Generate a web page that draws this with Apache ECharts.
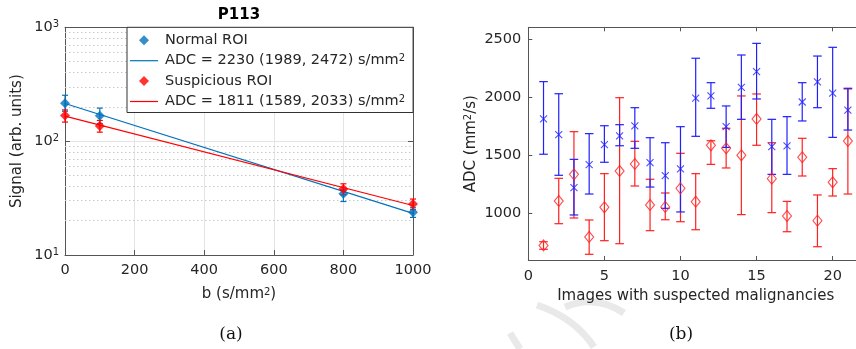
<!DOCTYPE html>
<html>
<head>
<meta charset="utf-8">
<script src="https://cdn.jsdelivr.net/npm/echarts@6/dist/echarts.min.js"></script>
<style>
  html, body { margin: 0; padding: 0; background: #fff; }
  #chart { width: 856px; height: 349px; }
</style>
</head>
<body>
<div id="chart"></div>
<script>
// (a) signal decay for patient P113
const bValues = [0, 100, 800, 1000]
const normalSignal = [215, 167, 34.5, 23.7]
const normalLow = [183, 143, 29.5, 21.4]
const normalHigh = [253, 195, 37.4, 26]
const suspSignal = [168, 136, 37.9, 28]
const suspLow = [147, 120, 33.8, 25]
const suspHigh = [188, 152, 42.2, 31]
// mono-exponential fits (straight on the log axis), end points at b = 0 and b = 1000
const normalFit = [[0, 214], [1000, 23.2]]
const suspFit = [[0, 166], [1000, 27.2]]
const normalFitLabel = 'ADC = 2230 (1989, 2472) s/mm2'
const suspFitLabel = 'ADC = 1811 (1589, 2033) s/mm2'
const logMinorGrid = [20, 30, 40, 50, 60, 70, 80, 90, 200, 300, 400, 500, 600, 700, 800, 900]

// (b) ADC per image with suspected malignancy
const imageIdx = [1, 2, 3, 4, 5, 6, 7, 8, 9, 10, 11, 12, 13, 14, 15, 16, 17, 18, 19, 20, 21]
const blueAdc = [1812, 1677, 1222, 1419, 1591, 1666, 1752, 1436, 1325, 1384, 1992, 2010, 1746, 2084, 2219, 1574, 1580, 1958, 2130, 2035, 1889]
const blueLow = [1509, 1328, 987, 1167, 1440, 1582, 1560, 1227, 1044, 1013, 1663, 1904, 1568, 1809, 1984, 1336, 1336, 1795, 1909, 1654, 1717]
const blueHigh = [2133, 2029, 1465, 1686, 1754, 1763, 1909, 1651, 1608, 1746, 2334, 2124, 1924, 2362, 2462, 1809, 1832, 2124, 2353, 2428, 2076]
const redAdc = [725, 1107, 1336, 798, 1053, 1365, 1425, 1073, 1056, 1216, 1101, 1586, 1560, 1500, 1812, 1299, 978, 1483, 938, 1268, 1623]
const redLow = [692, 912, 961, 649, 766, 740, 1236, 852, 946, 929, 860, 1422, 1391, 990, 1586, 1007, 843, 1322, 714, 1150, 1167]
const redHigh = [757, 1302, 1703, 944, 1342, 1995, 1620, 1294, 1176, 1517, 1342, 1625, 1732, 2010, 2027, 1608, 1104, 1646, 1159, 1385, 2070]
const adcTicks = [1000, 1500, 2000, 2500]
const imageTicks = [0, 5, 10, 15, 20]

const FONT = 'DejaVu Sans'
const TEXT = '#262626'
const AXIS = '#555555'
const sup = { fontSize: 10, fontFamily: FONT, color: TEXT, padding: [0, 0, 5, 0] }
const DIAMOND = 'path://M5,0L10,5L5,10L0,5Z'
const LEGEND_LINE = 'path://M0,0L28,0L28,1.2L0,1.2Z'

// vertical error bar with caps, positioned through the axis scales
function errorBars(color, capHalf, width) {
  return function (params, api) {
    const x = api.value(0)
    const top = api.coord([x, api.value(2)])
    const bottom = api.coord([x, api.value(1)])
    const style = { stroke: color, lineWidth: width }
    return {
      type: 'group',
      children: [
        { type: 'line', shape: { x1: top[0], y1: top[1], x2: bottom[0], y2: bottom[1] }, style },
        { type: 'line', shape: { x1: top[0] - capHalf, y1: top[1], x2: top[0] + capHalf, y2: top[1] }, style },
        { type: 'line', shape: { x1: bottom[0] - capHalf, y1: bottom[1], x2: bottom[0] + capHalf, y2: bottom[1] }, style },
      ],
    }
  }
}

const zip = (xs, ys) => xs.map((x, i) => [x, ys[i]])
const zip3 = (xs, lo, hi) => xs.map((x, i) => [x, lo[i], hi[i]])

// Box-style axis (MATLAB "box on"): ticks inside, optional labels
function boxAxis(extra) {
  return {
    axisLine: { show: true, onZero: false, lineStyle: { color: AXIS, width: 1 } },
    axisTick: { show: true, inside: true, length: 5, lineStyle: { color: AXIS } },
    axisLabel: { show: false },
    splitLine: { show: false },
    nameTextStyle: { color: TEXT, fontSize: 15, fontFamily: FONT },
    nameLocation: 'middle',
    ...extra,
  }
}
const tickLabel = (margin) => ({
  show: true, color: TEXT, fontSize: 14.5, fontFamily: FONT, margin,
  formatter: (v) => String(v),
})

const chart = echarts.init(document.getElementById('chart'))

chart.setOption({
  animation: false,
  backgroundColor: '#fff',
  textStyle: { fontFamily: FONT },
  grid: [
    { left: 65, top: 27.3, width: 348, height: 227.7, outerBoundsMode: 'none', containLabel: false },
    { left: 528.3, top: 27.3, width: 334.8, height: 232.7, outerBoundsMode: 'none', containLabel: false },
  ],
  xAxis: [
    boxAxis({
      gridIndex: 0, type: 'value', min: 0, max: 1000, interval: 200, position: 'bottom',
      axisLabel: tickLabel(8),
      splitLine: { show: true, lineStyle: { color: '#e4e4e4', width: 1 } },
      name: '{t|b (s/mm}{s|2}{t|)}', nameGap: 32,
      nameTextStyle: { rich: { t: { fontSize: 15, fontFamily: FONT, color: TEXT }, s: sup } },
    }),
    boxAxis({ gridIndex: 0, type: 'value', min: 0, max: 1000, interval: 200, position: 'top' }),
    boxAxis({
      gridIndex: 1, type: 'value', min: 0, max: 22, position: 'bottom',
      axisTick: { show: true, inside: true, length: 4, lineStyle: { color: AXIS }, customValues: imageTicks },
      axisLabel: { ...tickLabel(9), customValues: imageTicks },
      name: 'Images with suspected malignancies', nameGap: 28,
    }),
    boxAxis({
      gridIndex: 1, type: 'value', min: 0, max: 22, position: 'top',
      axisTick: { show: true, inside: true, length: 4, lineStyle: { color: AXIS }, customValues: imageTicks },
    }),
  ],
  yAxis: [
    boxAxis({
      gridIndex: 0, type: 'log', logBase: 10, min: 10, max: 1000, position: 'left',
      axisLabel: {
        ...tickLabel(6),
        formatter: (v) => '{b|10}{e|' + Math.round(Math.log10(v)) + '}',
        rich: { b: { fontSize: 14.5, fontFamily: FONT, color: TEXT }, e: sup },
      },
      splitLine: { show: true, lineStyle: { color: '#e4e4e4', width: 1 } },
      name: 'Signal (arb. units)', nameGap: 40,
    }),
    boxAxis({ gridIndex: 0, type: 'log', logBase: 10, min: 10, max: 1000, position: 'right' }),
    boxAxis({
      gridIndex: 1, type: 'value', min: 600, max: 2600, position: 'left',
      axisTick: { show: true, inside: true, length: 4, lineStyle: { color: AXIS }, customValues: adcTicks },
      axisLabel: { ...tickLabel(7), customValues: adcTicks },
      name: '{t|ADC (mm}{s|2}{t|/s)}', nameGap: 50,
      nameTextStyle: { rich: { t: { fontSize: 15, fontFamily: FONT, color: TEXT }, s: sup } },
    }),
    boxAxis({
      gridIndex: 1, type: 'value', min: 600, max: 2600, position: 'right',
      axisTick: { show: true, inside: true, length: 4, lineStyle: { color: AXIS }, customValues: adcTicks },
    }),
  ],
  legend: {
    data: [
      { name: 'Normal ROI', icon: DIAMOND },
      { name: normalFitLabel, icon: LEGEND_LINE },
      { name: 'Suspicious ROI', icon: DIAMOND },
      { name: suspFitLabel, icon: LEGEND_LINE },
    ],
    orient: 'vertical',
    left: 127,
    top: 27.3,
    itemWidth: 28,
    itemHeight: 10,
    itemGap: 5.4,
    symbolKeepAspect: true,
    padding: [5.5, 8, 3.5, 3],
    backgroundColor: '#fff',
    borderColor: '#333',
    borderWidth: 1,
    borderRadius: 0,
    selectedMode: false,
    formatter: (name) => name.endsWith('mm2') ? '{t|' + name.slice(0, -1) + '}{s|2}' : '{t|' + name + '}',
    textStyle: {
      color: TEXT,
      fontSize: 14.5,
      fontFamily: FONT,
      padding: [0, 0, 0, 2],
      rich: { t: { fontSize: 14.5, fontFamily: FONT, color: TEXT, lineHeight: 17.3 }, s: sup },
    },
  },
  series: [
    // (a)
    {
      name: normalFitLabel, type: 'line', xAxisIndex: 0, yAxisIndex: 0, data: normalFit,
      symbol: 'none', color: '#0072BD', lineStyle: { width: 1.2, color: '#0072BD' }, z: 3,
      markLine: {
        silent: true, symbol: 'none', label: { show: false }, animation: false,
        lineStyle: { type: [1.5, 2.5], color: '#c8c8c8', width: 1 },
        data: logMinorGrid.map((v) => ({ yAxis: v })),
        z: 1,
      },
    },
    {
      name: 'normalErr', type: 'custom', xAxisIndex: 0, yAxisIndex: 0, z: 4,
      data: zip3(bValues, normalLow, normalHigh), encode: { x: 0, y: [1, 2] },
      renderItem: errorBars('#0072BD', 3, 1.2),
    },
    {
      name: 'Normal ROI', type: 'scatter', xAxisIndex: 0, yAxisIndex: 0, z: 5,
      data: zip(bValues, normalSignal), symbol: 'diamond', symbolSize: 10, color: '#0072BD',
      itemStyle: { color: '#0072BD' },
    },
    {
      name: suspFitLabel, type: 'line', xAxisIndex: 0, yAxisIndex: 0, data: suspFit,
      symbol: 'none', color: '#FF0000', lineStyle: { width: 1.2, color: '#FF0000' }, z: 3,
    },
    {
      name: 'suspErr', type: 'custom', xAxisIndex: 0, yAxisIndex: 0, z: 4,
      data: zip3(bValues, suspLow, suspHigh), encode: { x: 0, y: [1, 2] },
      renderItem: errorBars('#FF0000', 3, 1.2),
    },
    {
      name: 'Suspicious ROI', type: 'scatter', xAxisIndex: 0, yAxisIndex: 0, z: 5,
      data: zip(bValues, suspSignal), symbol: 'diamond', symbolSize: 10, color: '#FF0000',
      itemStyle: { color: '#FF0000' },
    },
    // (b)
    {
      name: 'redErrB', type: 'custom', xAxisIndex: 2, yAxisIndex: 2,
      data: zip3(imageIdx, redLow, redHigh), encode: { x: 0, y: [1, 2] },
      renderItem: errorBars('#FF2020', 4.3, 1.2),
    },
    {
      name: 'redAdc', type: 'scatter', xAxisIndex: 2, yAxisIndex: 2,
      data: zip(imageIdx, redAdc), symbol: 'diamond', symbolSize: [9, 11],
      itemStyle: { color: 'rgba(255,255,255,0)', borderColor: '#FF2020', borderWidth: 1.1 },
    },
    {
      name: 'blueErrB', type: 'custom', xAxisIndex: 2, yAxisIndex: 2,
      data: zip3(imageIdx, blueLow, blueHigh), encode: { x: 0, y: [1, 2] },
      renderItem: errorBars('#2020FF', 4.3, 1.2),
    },
    {
      name: 'blueAdc', type: 'scatter', xAxisIndex: 2, yAxisIndex: 2,
      data: zip(imageIdx, blueAdc), symbol: 'path://M0,0L10,10M10,0L0,10', symbolSize: 7,
      itemStyle: { color: 'rgba(255,255,255,0)', borderColor: '#2020FF', borderWidth: 1.1 },
    },
  ],
  graphic: [
    { type: 'text', x: 239, y: 15, style: { text: 'P113', font: 'bold 15px "DejaVu Sans"', fill: '#000', align: 'center', verticalAlign: 'middle' } },
    { type: 'text', x: 231, y: 335, style: { text: '(a)', font: '17px "DejaVu Serif"', fill: '#111', align: 'center', verticalAlign: 'middle' } },
    { type: 'text', x: 681, y: 335, style: { text: '(b)', font: '17px "DejaVu Serif"', fill: '#111', align: 'center', verticalAlign: 'middle' } },
    // faint watermark strokes
    { type: 'bezierCurve', z: -1, shape: { x1: 537, y1: 305, x2: 594, y2: 347, cpx1: 575, cpy1: 318 }, style: { stroke: '#e9e9e9', lineWidth: 7, fill: null } },
    { type: 'bezierCurve', z: -1, shape: { x1: 565, y1: 307, x2: 624, y2: 313, cpx1: 595, cpy1: 294 }, style: { stroke: '#e9e9e9', lineWidth: 7, fill: null } },
    { type: 'line', z: -1, shape: { x1: 510, y1: 333, x2: 520, y2: 349 }, style: { stroke: '#e9e9e9', lineWidth: 7 } },
  ],
})
</script>
</body>
</html>
